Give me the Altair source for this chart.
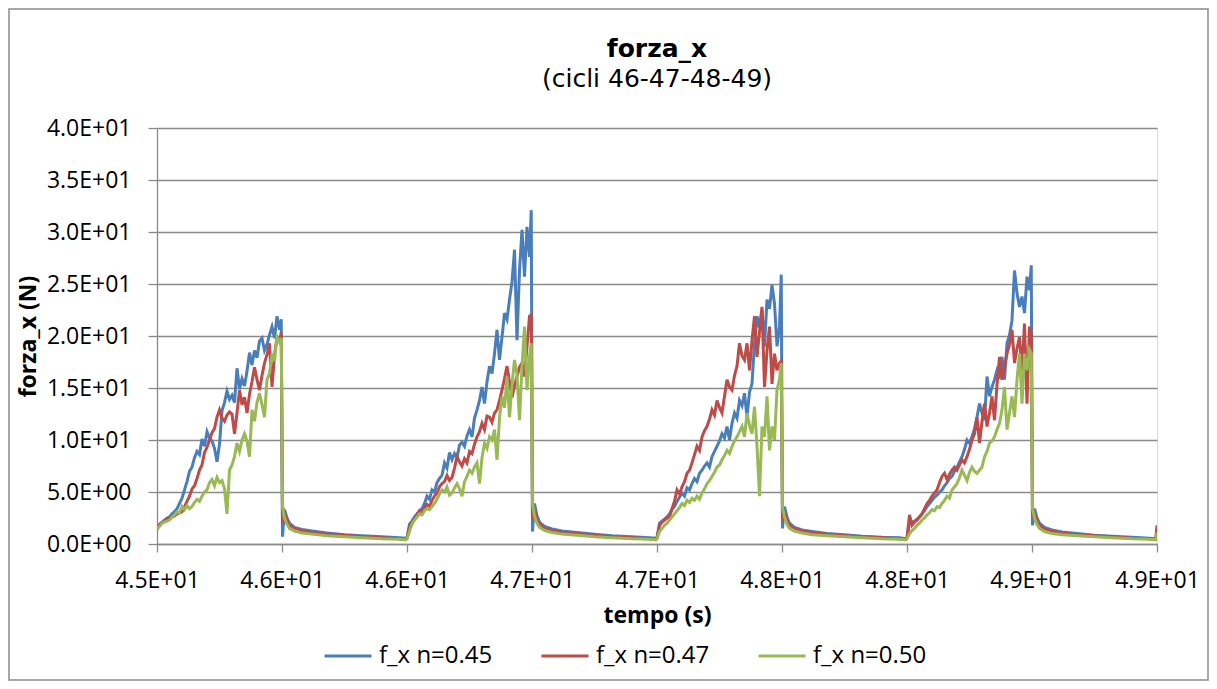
import altair as alt
import pandas as pd

SERIES = ["f_x n=0.45", "f_x n=0.47", "f_x n=0.50"]
COLORS = ["#4A7EBB", "#BE4B48", "#98B954"]

CYCLE_START = [45.0, 46.0, 47.0, 48.0]
END_T = 49.0

RISE_T = [0.00, 0.01, 0.02, 0.03, 0.04, 0.05, 0.06, 0.07, 0.08, 0.09,
          0.10, 0.11, 0.12, 0.13, 0.14, 0.15, 0.16, 0.17, 0.18, 0.19,
          0.20, 0.21, 0.22, 0.23, 0.24, 0.25, 0.26, 0.27, 0.28, 0.29,
          0.30, 0.31, 0.32, 0.33, 0.34, 0.35, 0.36, 0.37, 0.38, 0.39,
          0.40, 0.41, 0.42, 0.43, 0.44, 0.45, 0.46, 0.47, 0.48, 0.49]
PEAK_T = 0.497
DECAY_T = [0.502, 0.51, 0.52, 0.53, 0.55, 0.58, 0.62, 0.68, 0.75, 0.82, 0.90, 0.97, 0.995]

# ---- f_x n=0.45 (blue) ----
BLUE_RISE = [
    [1.4, 1.9, 2.1, 2.3, 2.5, 2.6, 2.9, 3.1, 3.4, 3.9, 4.4, 5.2, 6.0, 7.0, 7.4, 8.3, 8.9, 8.6, 10.1, 9.4,
     10.8, 10.2, 9.9, 9.2, 7.9, 9.6, 12.8, 13.6, 14.7, 13.9, 14.3, 13.6, 16.9, 14.9, 15.9, 15.2, 16.6, 18.4, 17.2, 18.6,
     17.9, 19.5, 19.8, 18.6, 19.2, 20.1, 20.9, 19.8, 21.9, 20.6],
    [0.6, 1.9, 2.2, 2.6, 2.9, 3.2, 3.4, 3.9, 4.6, 4.3, 5.2, 5.0, 5.9, 6.3, 6.6, 7.8, 7.3, 8.8, 8.1, 8.7,
     8.3, 9.5, 9.8, 9.4, 10.4, 11.0, 10.3, 12.1, 12.9, 13.8, 15.1, 13.5, 15.6, 17.1, 16.4, 18.3, 20.6, 17.7, 19.9, 22.2,
     21.6, 23.5, 25.2, 28.3, 19.6, 26.3, 30.2, 25.7, 30.5, 27.6],
    [0.6, 2.0, 2.2, 2.4, 2.6, 2.9, 3.3, 3.6, 4.1, 4.5, 4.9, 4.6, 5.4, 5.2, 5.8, 6.3, 6.0, 6.8, 7.1, 7.5,
     7.8, 7.4, 8.4, 8.9, 9.4, 9.9, 10.6, 10.2, 11.3, 10.0, 11.6, 12.6, 12.1, 13.8, 13.3, 14.5, 12.2, 14.6, 15.4, 19.3,
     21.9, 20.8, 22.5, 19.0, 23.5, 22.6, 24.9, 23.1, 19.0, 20.9],
    [0.6, 2.0, 2.1, 2.2, 2.4, 2.6, 2.9, 3.2, 3.6, 3.9, 4.2, 4.5, 4.7, 5.0, 5.2, 5.6, 5.9, 6.3, 6.5, 7.0,
     7.4, 7.9, 8.4, 9.1, 10.0, 9.7, 10.3, 11.1, 12.2, 13.5, 12.6, 11.9, 16.1, 14.2, 15.1, 15.8, 16.7, 16.2, 18.0, 15.8,
     19.3, 20.1, 21.5, 26.3, 24.1, 22.8, 23.8, 22.2, 25.7, 24.4],
]
BLUE_PEAK = [21.6, 32.1, 25.9, 26.8]
BLUE_DECAY = [
    [0.7, 3.3, 2.5, 2.0, 1.6, 1.4, 1.25, 1.05, 0.9, 0.8, 0.7, 0.6, 0.55],
    [1.2, 3.9, 2.7, 2.1, 1.7, 1.45, 1.25, 1.1, 0.95, 0.8, 0.7, 0.6, 0.55],
    [1.5, 3.6, 2.6, 2.0, 1.6, 1.35, 1.2, 1.0, 0.9, 0.75, 0.65, 0.6, 0.5],
    [1.8, 3.4, 2.5, 2.0, 1.6, 1.35, 1.15, 1.0, 0.85, 0.75, 0.65, 0.55, 0.5],
]
BLUE_END = 1.3

# ---- f_x n=0.47 (red) ----
RED_RISE = [
    [1.5, 1.8, 2.0, 2.2, 2.4, 2.5, 2.6, 2.7, 2.9, 3.0, 3.1, 3.6, 4.1, 4.6, 5.3, 5.6, 6.3, 7.1, 7.6, 8.8,
     9.3, 10.0, 10.7, 11.1, 12.2, 12.9, 12.1, 11.8, 12.4, 12.7, 12.5, 10.6, 12.6, 14.8, 13.4, 14.1, 12.6, 14.4, 15.6, 17.0,
     15.8, 14.8, 16.2, 17.4, 18.2, 19.3, 15.1, 18.1, 19.9, 19.5],
    [0.6, 1.6, 2.1, 2.4, 2.8, 3.2, 3.0, 3.5, 3.8, 3.6, 4.2, 4.6, 4.9, 5.5, 5.8, 6.0, 6.6, 6.1, 6.4, 7.3,
     8.4, 7.9, 7.5, 8.2, 7.8, 8.9, 8.7, 9.6, 10.3, 10.8, 11.6, 11.0, 12.3, 12.2, 11.7, 12.6, 12.9, 13.8, 14.8, 15.9,
     17.1, 15.6, 14.1, 15.2, 16.1, 17.0, 17.4, 16.1, 19.0, 21.9],
    [0.6, 1.8, 2.1, 2.3, 2.5, 2.6, 3.4, 4.1, 5.2, 4.8, 5.5, 6.0, 6.8, 7.1, 7.8, 8.6, 9.4, 9.0, 10.3, 10.9,
     11.3, 12.0, 12.9, 12.4, 13.8, 13.1, 12.6, 14.2, 15.8, 15.1, 14.8, 16.2, 17.1, 19.3, 18.1, 17.7, 19.3, 16.7, 19.6, 21.9,
     18.0, 20.4, 22.8, 15.1, 18.6, 20.9, 15.4, 18.3, 16.7, 17.4],
    [0.6, 2.8, 1.8, 2.1, 2.3, 2.6, 2.9, 3.4, 3.9, 4.2, 4.6, 4.9, 5.2, 5.9, 6.5, 6.8, 6.2, 6.7, 7.1, 7.4,
     7.1, 7.6, 8.1, 7.8, 8.4, 9.1, 10.0, 10.6, 12.2, 9.7, 11.8, 13.5, 11.3, 12.6, 14.2, 11.9, 15.3, 18.0, 15.8, 17.1,
     18.3, 19.2, 20.6, 17.4, 18.8, 19.9, 16.7, 21.2, 13.5, 20.9],
]
RED_PEAK = [20.3, 22.0, 17.6, 20.2]
RED_DECAY = [
    [2.0, 3.0, 2.3, 1.8, 1.5, 1.3, 1.1, 0.95, 0.85, 0.7, 0.6, 0.5, 0.45],
    [2.4, 3.2, 2.4, 1.9, 1.5, 1.3, 1.1, 1.0, 0.85, 0.7, 0.6, 0.5, 0.45],
    [2.2, 3.1, 2.3, 1.8, 1.5, 1.25, 1.1, 0.95, 0.8, 0.7, 0.6, 0.5, 0.45],
    [2.5, 3.0, 2.2, 1.8, 1.45, 1.25, 1.05, 0.9, 0.8, 0.7, 0.55, 0.5, 0.45],
]
RED_END = 1.8

# ---- f_x n=0.50 (green) ----
GREEN_RISE = [
    [1.4, 1.7, 2.0, 2.1, 2.2, 2.3, 2.6, 2.8, 3.1, 3.0, 3.6, 3.3, 3.7, 3.4, 3.6, 4.0, 4.3, 4.1, 4.6, 5.0,
     5.2, 5.9, 6.2, 5.6, 6.4, 5.9, 6.1, 5.3, 2.9, 7.1, 7.6, 8.4, 9.7, 8.9, 10.0, 10.6, 9.9, 8.4, 12.9, 11.8,
     13.6, 14.5, 13.4, 12.2, 15.8, 16.4, 18.3, 17.6, 19.9, 19.4],
    [0.5, 1.2, 1.9, 2.3, 2.6, 2.9, 2.8, 3.2, 3.4, 3.3, 3.6, 3.9, 4.3, 4.8, 5.2, 5.0, 5.5, 4.7, 4.9, 5.4,
     5.8, 5.3, 4.6, 6.0, 6.5, 7.1, 6.8, 7.4, 7.8, 5.8, 8.3, 9.7, 9.2, 10.3, 10.0, 11.0, 8.1, 12.1, 14.2, 13.1,
     16.1, 12.2, 15.3, 17.7, 16.3, 11.9, 17.1, 20.9, 14.8, 18.0],
    [0.5, 1.2, 1.5, 1.8, 2.0, 2.3, 2.6, 2.9, 3.2, 3.5, 3.9, 3.7, 4.2, 4.0, 4.4, 4.2, 4.6, 4.3, 4.9, 5.3,
     5.8, 6.1, 6.5, 6.9, 7.4, 7.6, 8.1, 8.5, 9.0, 8.7, 9.4, 9.9, 10.3, 10.8, 11.3, 10.3, 12.6, 11.4, 10.6, 13.2,
     9.4, 4.6, 11.3, 10.3, 14.2, 9.0, 11.3, 10.0, 14.8, 15.8],
    [0.5, 1.0, 1.3, 1.5, 1.8, 2.0, 2.3, 2.5, 2.8, 3.0, 3.3, 3.2, 3.6, 3.5, 3.9, 4.2, 4.6, 4.4, 5.2, 5.5,
     5.8, 6.4, 7.1, 6.6, 6.1, 6.9, 7.4, 7.0, 6.8, 7.1, 7.4, 8.4, 8.9, 9.7, 9.9, 10.3, 11.0, 11.6, 12.9, 15.1,
     11.0, 12.6, 14.2, 12.2, 15.8, 18.3, 13.5, 18.3, 16.7, 18.7],
]
GREEN_PEAK = [19.8, 19.3, 17.4, 18.3]
GREEN_DECAY = [
    [3.6, 2.5, 1.9, 1.5, 1.25, 1.05, 0.95, 0.8, 0.7, 0.6, 0.5, 0.45, 0.4],
    [3.9, 2.7, 2.0, 1.6, 1.3, 1.1, 0.95, 0.85, 0.7, 0.6, 0.5, 0.45, 0.4],
    [3.5, 2.6, 1.9, 1.5, 1.25, 1.05, 0.9, 0.8, 0.7, 0.6, 0.5, 0.45, 0.4],
    [3.4, 2.5, 1.9, 1.5, 1.2, 1.0, 0.9, 0.8, 0.7, 0.6, 0.5, 0.45, 0.4],
]
GREEN_END = 1.1

Y_TICKS = [0, 5, 10, 15, 20, 25, 30, 35, 40]
X_TICKS = [45.0, 45.5, 46.0, 46.5, 47.0, 47.5, 48.0, 48.5, 49.0]

rows = []
for name, rise, peak, decay, end in [
    (SERIES[0], BLUE_RISE, BLUE_PEAK, BLUE_DECAY, BLUE_END),
    (SERIES[1], RED_RISE, RED_PEAK, RED_DECAY, RED_END),
    (SERIES[2], GREEN_RISE, GREEN_PEAK, GREEN_DECAY, GREEN_END),
]:
    for ci, c0 in enumerate(CYCLE_START):
        for dt, v in zip(RISE_T, rise[ci]):
            rows.append({"serie": name, "t": round(c0 + dt, 4), "f": v})
        rows.append({"serie": name, "t": round(c0 + PEAK_T, 4), "f": peak[ci]})
        for dt, v in zip(DECAY_T, decay[ci]):
            rows.append({"serie": name, "t": round(c0 + dt, 4), "f": v})
    rows.append({"serie": name, "t": END_T, "f": end})

df = pd.DataFrame(rows)

FONT = "Open Sans"
GRAY = "#8a8a8a"

lines = alt.Chart(df).mark_line(strokeWidth=3, clip=True).encode(
    x=alt.X("t:Q",
            scale=alt.Scale(domain=[45, 49], nice=False, zero=False),
            axis=alt.Axis(values=X_TICKS, title="tempo (s)", grid=False,
                          labelExpr="replace(upper(format(datum.value, '.1e')), 'E+', 'E+0')",
                          tickSize=8, labelPadding=17, labelFontSize=23, labelFont=FONT,
                          labelColor="#000", titleFont=FONT, titleFontSize=23, titleFontWeight="bold",
                          titleColor="#000", titleY=78, titleBaseline="alphabetic",
                          domainColor=GRAY, tickColor=GRAY, domainWidth=1.3, tickWidth=1.3,
                          labelFlush=False, labelOverlap=False)),
    y=alt.Y("f:Q",
            scale=alt.Scale(domain=[0, 40], nice=False),
            axis=alt.Axis(values=Y_TICKS, title="forza_x (N)", grid=True,
                          labelExpr="replace(upper(format(datum.value, '.1e')), 'E+', 'E+0')",
                          tickSize=9, labelPadding=17, labelFontSize=23, labelFont=FONT,
                          labelColor="#000", titleFont=FONT, titleFontSize=23, titleFontWeight="bold",
                          titleColor="#000", titleX=-129, titleY=208, titleAngle=270,
                          titleBaseline="middle", titleAlign="center",
                          gridColor=GRAY, gridWidth=1.3,
                          domainColor=GRAY, tickColor=GRAY, domainWidth=1.3, tickWidth=1.3,
                          labelOverlap=False)),
    color=alt.Color("serie:N",
                    scale=alt.Scale(domain=SERIES, range=COLORS),
                    legend=alt.Legend(title=None, orient="none", direction="horizontal",
                                      legendX=166, legendY=503, padding=0,
                                      symbolType="stroke", symbolSize=2209, symbolStrokeWidth=3,
                                      labelFont=FONT, labelFontSize=24, labelColor="#000",
                                      labelOffset=6, columnPadding=42)),
)

border = alt.Chart(pd.DataFrame({"a": [0]})).mark_rect(
    fillOpacity=0, stroke="#8c8c8c", strokeWidth=1.5
).encode(
    x=alt.value(-148), x2=alt.value(1051), y=alt.value(-119), y2=alt.value(552)
)

chart = alt.layer(border, lines).properties(
    width=1000, height=416,
    autosize=alt.AutoSizeParams(type="none"),
    padding={"left": 149, "top": 120, "right": 52, "bottom": 137},
    title=alt.TitleParams(text="forza_x", subtitle="(cicli 46-47-48-49)", anchor="middle",
                          frame="group",
                          font="DejaVu Sans", fontSize=25, fontWeight="bold", color="#000",
                          subtitleFont="DejaVu Sans", subtitleFontSize=25, subtitleColor="#000",
                          subtitlePadding=5, offset=34, dy=118),
).configure_view(stroke=None).configure(background="white")

chart.save("out.html", embed_options={"renderer": "svg", "actions": False})
